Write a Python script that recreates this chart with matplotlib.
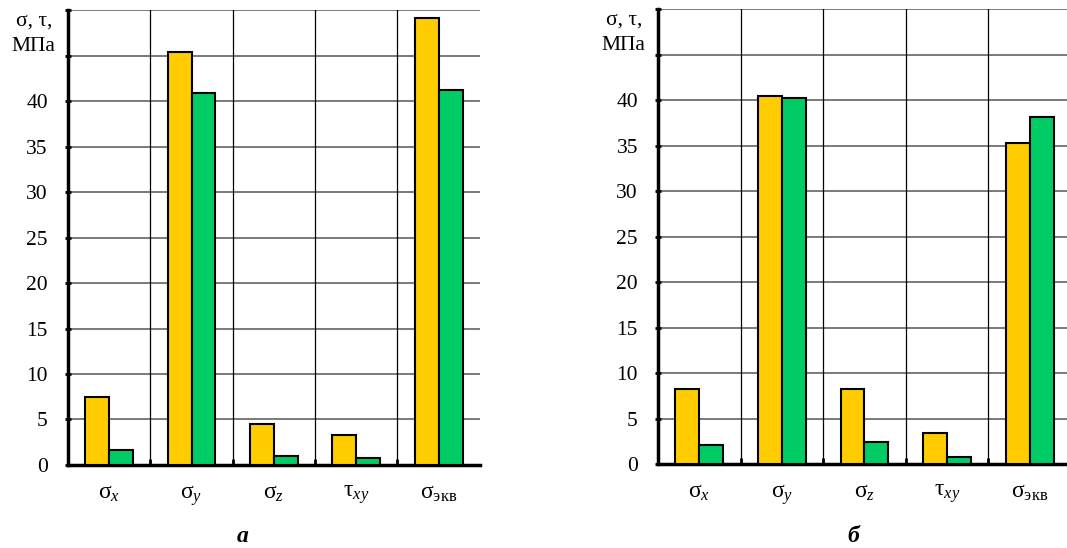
import matplotlib.pyplot as plt

plt.rcParams['font.family'] = ['Liberation Serif', 'DejaVu Serif']
plt.rcParams['mathtext.fontset'] = 'custom'
plt.rcParams['mathtext.rm'] = 'Liberation Serif'
plt.rcParams['mathtext.it'] = 'Liberation Serif:italic'

categories = [r'$\mathrm{σ}_{x}$', r'$\mathrm{σ}_{y}$', r'$\mathrm{σ}_{z}$',
              r'$\mathrm{τ}_{xy}$', r'$\mathrm{σ}_{\mathrm{экв}}$']
# панель а
yellow_a = [7.5, 45.4, 4.5, 3.3, 49.1]
green_a = [1.7, 40.9, 1.0, 0.8, 41.2]
# панель б
yellow_b = [8.2, 40.5, 8.2, 3.4, 35.3]
green_b = [2.1, 40.2, 2.4, 0.8, 38.1]
yticks = [0, 5, 10, 15, 20, 25, 30, 35, 40, 45, 50]
ytick_labels = ['0', '5', '10', '15', '20', '25', '30', '35', '40', '', '']
captions = ['а', 'б']

fig = plt.figure(figsize=(10.67, 5.48), dpi=100)
ax1 = fig.add_axes([0.0637, 0.1515, 0.386, 0.830])
ax2 = fig.add_axes([0.6167, 0.1533, 0.387, 0.830])

w = 0.29
for ax, yv, gv in [(ax1, yellow_a, green_a), (ax2, yellow_b, green_b)]:
    x = list(range(len(categories)))
    ax.set_axisbelow(True)
    for v in yticks:
        ax.axhline(v, color='#707070', linewidth=1.3, zorder=0)
    for b in [0.5, 1.5, 2.5, 3.5]:
        ax.axvline(b, color='black', linewidth=0.9, zorder=0)
    ax.bar([i - w / 2 for i in x], yv, width=w, color='#FFCC00',
           edgecolor='black', linewidth=1.5, zorder=3)
    ax.bar([i + w / 2 for i in x], gv, width=w, color='#00CC66',
           edgecolor='black', linewidth=1.5, zorder=3)
    ax.set_xlim(-0.5, 4.5)
    ax.set_ylim(0, 50)
    ax.set_yticks(yticks)
    ax.set_yticklabels(ytick_labels, fontsize=15.5)
    ax.tick_params(axis='y', direction='inout', length=5, width=2, pad=12)
    ax.set_xticks(x)
    ax.set_xticklabels(categories, fontsize=17)
    ax.tick_params(axis='x', length=0, pad=13)
    ax.set_xticks([0.5, 1.5, 2.5, 3.5], minor=True)
    ax.tick_params(axis='x', which='minor', direction='in', length=4, width=2)
    for s in ['top', 'right']:
        ax.spines[s].set_visible(False)
    ax.spines['left'].set_linewidth(2.5)
    ax.spines['bottom'].set_linewidth(2.5)
    ax.text(-0.083, 0.996, 'σ, τ,\nМПа', transform=ax.transAxes, ha='center',
            va='top', fontsize=15.5, linespacing=1.4)

fig.text(243 / 1067, 1 - 537 / 548, captions[0], ha='center', va='center',
         fontsize=17, fontweight='bold', fontstyle='italic')
fig.text(853 / 1067, 1 - 537 / 548, captions[1], ha='center', va='center',
         fontsize=17, fontweight='bold', fontstyle='italic')

fig.savefig('out.png', dpi=100)
